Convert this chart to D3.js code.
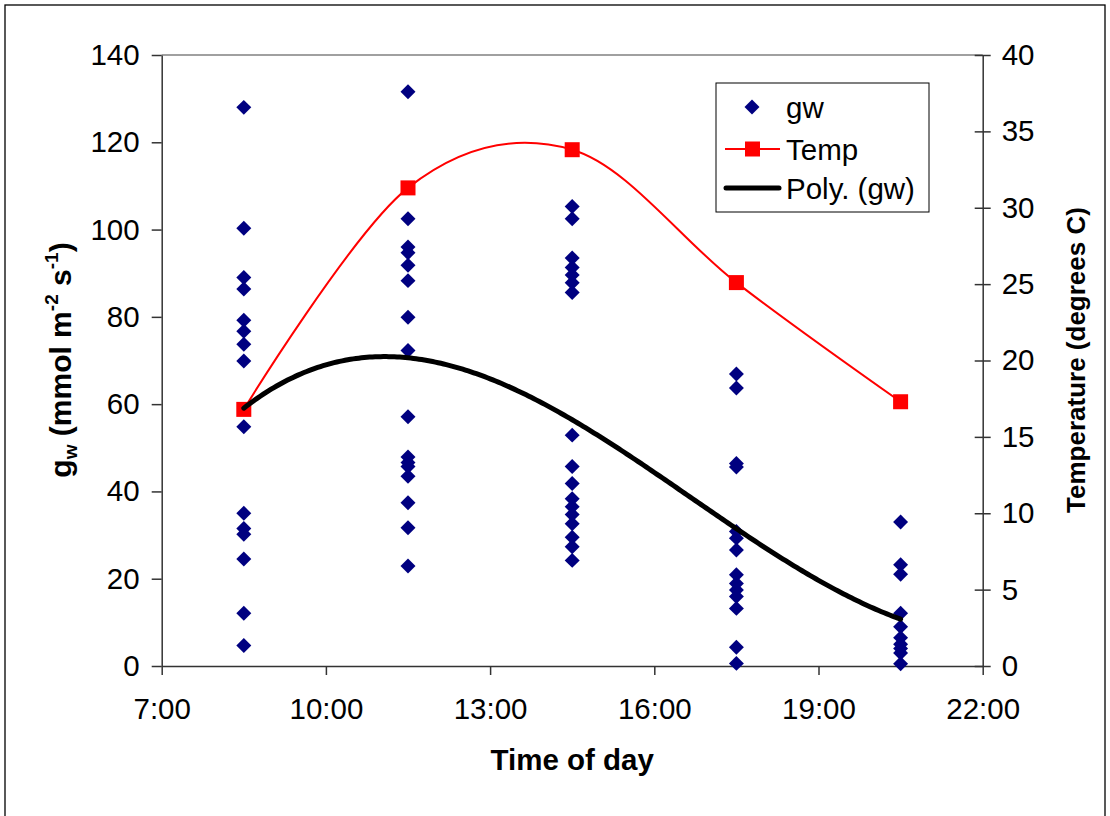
<!DOCTYPE html>
<html>
<head>
<meta charset="utf-8">
<script src="https://cdn.jsdelivr.net/npm/d3@7"></script>
<style>
  body { margin: 0; background: #fff; }
  svg text { font-family: "Liberation Sans", Arial, sans-serif; fill: #000; }
</style>
</head>
<body>
<div id="chart"></div>
<script>
// sampling times (hours of day)
const sampleHours = [8.5, 11.5, 14.5, 17.5, 20.5]

// gw readings (mmol m-2 s-1) at each sampling time
const gw0830 = [128.0, 100.3, 89.0, 86.4, 79.2, 76.7, 73.7, 69.9, 54.8, 35.0, 31.5, 30.2, 24.5, 12.1, 4.7]
const gw1130 = [131.6, 102.5, 96.0, 94.7, 91.8, 88.3, 79.9, 72.3, 57.1, 47.9, 46.6, 45.7, 43.5, 37.4, 31.7, 22.9]
const gw1430 = [105.3, 102.5, 93.5, 91.3, 89.6, 87.8, 85.6, 52.9, 45.7, 41.8, 38.3, 36.5, 34.7, 32.6, 29.5, 27.3, 24.2]
const gw1730 = [66.9, 63.7, 46.4, 45.6, 30.8, 29.3, 26.6, 20.9, 18.9, 17.4, 15.9, 13.2, 4.3, 0.6]
const gw2030 = [33.0, 23.2, 21.0, 12.1, 9.0, 6.5, 5.0, 4.0, 3.0, 0.5]

// air temperature (degrees C)
const tempValues = [16.8, 31.3, 33.8, 25.1, 17.3]

const xTicks = [7, 10, 13, 16, 19, 22]
const yLeftTicks = [0, 20, 40, 60, 80, 100, 120, 140]
const yRightTicks = [0, 5, 10, 15, 20, 25, 30, 35, 40]

const width = 1110, height = 816
const fontSize = 29.5

let gwPoints = []
;[gw0830, gw1130, gw1430, gw1730, gw2030].forEach((arr, i) => {
  arr.forEach(v => gwPoints.push({t: sampleHours[i], v: v}))
})
const tempPoints = sampleHours.map((t, i) => ({t: t, v: tempValues[i]}))

// cubic least-squares trend, as Excel's "Poly. (gw)"
const fitCubic = (pts, c) => {
  let n = 4
  let A = d3.range(n).map(() => d3.range(n + 1).map(() => 0))
  pts.forEach(p => {
    let u = p.t - c
    let pw = d3.range(2 * n).map(k => Math.pow(u, k))
    for (let r = 0; r < n; r++) {
      for (let k = 0; k < n; k++) A[r][k] += pw[r + k]
      A[r][n] += p.v * pw[r]
    }
  })
  for (let i = 0; i < n; i++) {
    let piv = i
    for (let r = i + 1; r < n; r++) if (Math.abs(A[r][i]) > Math.abs(A[piv][i])) piv = r
    ;[A[i], A[piv]] = [A[piv], A[i]]
    for (let r = 0; r < n; r++) {
      if (r === i) continue
      let f = A[r][i] / A[i][i]
      for (let k = i; k <= n; k++) A[r][k] -= f * A[i][k]
    }
  }
  let coef = A.map((row, i) => row[n] / row[i])
  return t => coef.reduce((s, a, k) => s + a * Math.pow(t - c, k), 0)
}
const trend = fitCubic(gwPoints, 14.5)

const svg = d3.select('#chart').append('svg')
  .attr('width', width)
  .attr('height', height)

svg.append('rect')
  .attr('x', 5).attr('y', 5)
  .attr('width', 1100).attr('height', 840)
  .attr('fill', 'none')
  .attr('stroke', '#000')
  .attr('stroke-width', 1.3)

const x = d3.scaleLinear().domain([7, 22]).range([161.7, 982.7])
const yL = d3.scaleLinear().domain([0, 140]).range([666, 55])
const yR = d3.scaleLinear().domain([0, 40]).range([666, 55])

// plot area top border
svg.append('line')
  .attr('x1', x(7)).attr('x2', x(22))
  .attr('y1', yL(140)).attr('y2', yL(140))
  .attr('stroke', '#808080')
  .attr('stroke-width', 1.3)

const styleAxis = g => {
  g.selectAll('path, line').attr('stroke', '#333').attr('stroke-width', 1.5)
  g.selectAll('text')
    .attr('font-size', fontSize)
    .attr('font-family', '"Liberation Sans", Arial, sans-serif')
    .attr('fill', '#000')
}

svg.append('g')
  .attr('transform', `translate(${x(7)},0)`)
  .call(d3.axisLeft(yL).tickValues(yLeftTicks).tickSizeInner(10).tickSizeOuter(0).tickPadding(12))
  .call(styleAxis)

let rightAxis = svg.append('g')
  .attr('transform', `translate(${x(22)},0)`)
  .call(d3.axisRight(yR).tickValues(yRightTicks).tickSizeInner(8).tickSizeOuter(0).tickPadding(11))
  .call(styleAxis)
rightAxis.selectAll('.tick line').attr('x1', -8)

svg.append('g')
  .attr('transform', `translate(0,${yL(0)})`)
  .call(d3.axisBottom(x).tickValues(xTicks).tickFormat(d => d + ':00').tickSizeInner(9).tickSizeOuter(0).tickPadding(23))
  .call(styleAxis)

// gw scatter
const diamond = d3.symbol(d3.symbolSquare, 112)
svg.append('g')
  .selectAll('path')
  .data(gwPoints)
  .join('path')
  .attr('d', diamond)
  .attr('transform', d => `translate(${x(d.t)},${yL(d.v)}) rotate(45)`)
  .attr('fill', '#000080')

// temperature line (smoothed)
const tempLine = d3.line()
  .curve(d3.curveCatmullRom.alpha(0))
  .x(d => x(d.t))
  .y(d => yR(d.v))

svg.append('path')
  .datum(tempPoints)
  .attr('d', tempLine)
  .attr('fill', 'none')
  .attr('stroke', '#ff0000')
  .attr('stroke-width', 2)

svg.append('g')
  .selectAll('rect')
  .data(tempPoints)
  .join('rect')
  .attr('x', d => x(d.t) - 7.5)
  .attr('y', d => yR(d.v) - 7.5)
  .attr('width', 15).attr('height', 15)
  .attr('fill', '#ff0000')

// polynomial trend
const tSamples = d3.range(sampleHours[0], sampleHours[4] + 0.001, 0.05)
const trendLine = d3.line()
  .x(t => x(t))
  .y(t => yL(trend(t)))

svg.append('path')
  .datum(tSamples)
  .attr('d', trendLine)
  .attr('fill', 'none')
  .attr('stroke', '#000')
  .attr('stroke-width', 5)
  .attr('stroke-linecap', 'round')

// axis titles
svg.append('text')
  .attr('x', x(14.5)).attr('y', 770)
  .attr('text-anchor', 'middle')
  .attr('font-size', fontSize)
  .attr('font-weight', 'bold')
  .text('Time of day')

let lt = svg.append('text')
  .attr('transform', 'translate(71,360) rotate(-90)')
  .attr('text-anchor', 'middle')
  .attr('font-size', 30)
  .attr('font-weight', 'bold')
lt.append('tspan').text('g')
lt.append('tspan').attr('font-size', 19).attr('dy', 6).text('w')
lt.append('tspan').attr('dy', -6).text(' (mmol m')
lt.append('tspan').attr('font-size', 19).attr('dy', -13).text('-2')
lt.append('tspan').attr('dy', 13).text(' s')
lt.append('tspan').attr('font-size', 19).attr('dy', -13).text('-1')
lt.append('tspan').attr('dy', 13).text(')')

svg.append('text')
  .attr('transform', 'translate(1085,360) rotate(-90)')
  .attr('text-anchor', 'middle')
  .attr('font-size', 26)
  .attr('font-weight', 'bold')
  .text('Temperature (degrees C)')

// legend
const legend = svg.append('g')
legend.append('rect')
  .attr('x', 716).attr('y', 83)
  .attr('width', 213).attr('height', 129)
  .attr('fill', '#fff')
  .attr('stroke', '#000')
  .attr('stroke-width', 1)

const legendRows = [
  {label: 'gw', y: 107},
  {label: 'Temp', y: 149},
  {label: 'Poly. (gw)', y: 188}
]

legend.append('path')
  .attr('d', diamond)
  .attr('transform', `translate(752,${legendRows[0].y}) rotate(45)`)
  .attr('fill', '#000080')

legend.append('line')
  .attr('x1', 725).attr('x2', 780)
  .attr('y1', legendRows[1].y).attr('y2', legendRows[1].y)
  .attr('stroke', '#ff0000').attr('stroke-width', 2)
legend.append('rect')
  .attr('x', 745).attr('y', legendRows[1].y - 7.5)
  .attr('width', 15).attr('height', 15)
  .attr('fill', '#ff0000')

legend.append('line')
  .attr('x1', 726).attr('x2', 779)
  .attr('y1', legendRows[2].y).attr('y2', legendRows[2].y)
  .attr('stroke', '#000').attr('stroke-width', 5)
  .attr('stroke-linecap', 'round')

legend.selectAll('text.lab')
  .data(legendRows)
  .join('text')
  .attr('class', 'lab')
  .attr('x', 786)
  .attr('y', d => d.y)
  .attr('dy', '0.36em')
  .attr('font-size', fontSize)
  .text(d => d.label)
</script>
</body>
</html>
